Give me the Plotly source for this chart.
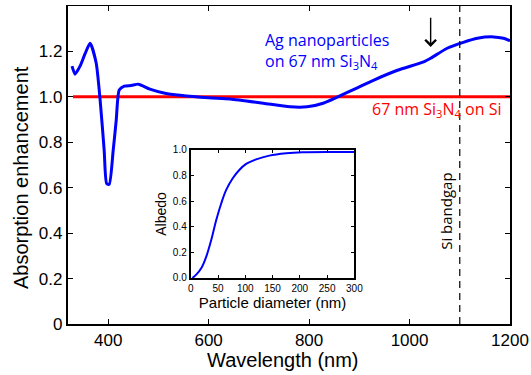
import plotly.graph_objects as go

# Main curve: Ag nanoparticles on 67 nm Si3N4
wl = [328, 334, 344, 354, 364, 376, 384, 392, 397, 402, 410, 416, 422, 432, 446, 460,
      483, 513, 543, 600, 643, 709, 762, 796, 828, 856, 896, 928, 976, 1028, 1042,
      1075, 1107, 1135, 1167, 1187, 1200]
enh = [1.135, 1.10, 1.135, 1.19, 1.236, 1.15, 0.985, 0.765, 0.618, 0.615, 0.765, 0.897,
       1.03, 1.047, 1.05, 1.056, 1.034, 1.016, 1.007, 0.996, 0.991, 0.972, 0.956, 0.956,
       0.972, 0.999, 1.04, 1.073, 1.117, 1.154, 1.17, 1.214, 1.24, 1.258, 1.264, 1.258,
       1.247]

# Reference: 67 nm Si3N4 on Si
ref_wl = [330, 1200]
ref_enh = [1.0, 1.0]

# Inset: albedo vs particle diameter
diam = [3, 10, 19.5, 28.6, 37.7, 46.9, 56, 65, 77, 89, 101.6, 120, 144, 175, 205, 266, 300]
albedo = [0.0, 0.026, 0.078, 0.169, 0.299, 0.455, 0.584, 0.688, 0.779, 0.844, 0.891,
          0.927, 0.956, 0.974, 0.982, 0.984, 0.984]

bandgap_nm = 1100
arrow_nm = 1042

main_yticks = [0, 0.2, 0.4, 0.6, 0.8, 1.0, 1.2]
main_yticktext = ["0", "0.2", "0.4", "0.6", "0.8", "1.0", "1.2"]
main_xticks = [400, 600, 800, 1000, 1200]
inset_xticks = [0, 50, 100, 150, 200, 250, 300]
inset_yticks = [0, 0.2, 0.4, 0.6, 0.8, 1.0]
inset_yticktext = ["0.0", "0.2", "0.4", "0.6", "0.8", "1.0"]

fig = go.Figure()
fig.add_trace(go.Scatter(x=ref_wl, y=ref_enh, mode="lines",
                         line=dict(color="#ff0000", width=3), showlegend=False))
fig.add_trace(go.Scatter(x=wl, y=enh, mode="lines",
                         line=dict(color="#0000ff", width=3, shape="spline", smoothing=0.6),
                         showlegend=False))
fig.add_trace(go.Scatter(x=[bandgap_nm, bandgap_nm], y=[0, 1.4], mode="lines",
                         line=dict(color="black", width=1.2, dash="7px,5px"), showlegend=False))
fig.add_trace(go.Scatter(x=diam, y=albedo, mode="lines", xaxis="x2", yaxis="y2",
                         line=dict(color="#0000ff", width=2, shape="spline"), showlegend=False))
# thin top axis (ticks only)
fig.add_trace(go.Scatter(x=[None], y=[None], xaxis="x3", yaxis="y", showlegend=False,
                         hoverinfo="skip"))

arial = "Liberation Sans, Arial, sans-serif"
tickfont = dict(family=arial, size=17, color="black")
fig.update_layout(
    width=531, height=375,
    margin=dict(l=68, r=21, t=6, b=51),
    paper_bgcolor="white", plot_bgcolor="white",
    font=dict(family=arial, color="black"),
    xaxis=dict(range=[320, 1200], tickvals=main_xticks, ticks="inside", ticklen=5,
               tickcolor="black", showline=True, linecolor="black", linewidth=2,
               mirror=False, showgrid=False, zeroline=False, tickfont=tickfont,
               automargin=False),
    xaxis3=dict(range=[320, 1200], tickvals=main_xticks, ticks="inside", ticklen=5,
                tickcolor="black", showline=True, linecolor="black", linewidth=1.3,
                overlaying="x", side="top", anchor="y", showticklabels=False,
                showgrid=False, zeroline=False, automargin=False),
    yaxis=dict(range=[0, 1.4], tickvals=main_yticks, ticktext=main_yticktext,
               ticks="inside", ticklen=5, tickcolor="black", showline=True,
               linecolor="black", linewidth=2.2, mirror="ticks", showgrid=False,
               zeroline=False, tickfont=tickfont, automargin=False),
    xaxis2=dict(domain=[0.2777, 0.6479], anchor="y2", range=[0, 300], tickvals=inset_xticks,
                ticks="inside", ticklen=3, tickcolor="black", showline=True,
                linecolor="black", linewidth=2, mirror="ticks", showgrid=False,
                zeroline=False, automargin=False,
                tickfont=dict(family=arial, size=10, color="black"),
                title=dict(text="Particle diameter (nm)", standoff=1,
                           font=dict(family=arial, size=15, color="black"))),
    yaxis2=dict(domain=[0.1447, 0.5472], anchor="x2", range=[0, 1.0], tickvals=inset_yticks,
                ticktext=inset_yticktext, ticks="inside", ticklen=3, tickcolor="black",
                showline=True, linecolor="black", linewidth=2, mirror="ticks",
                showgrid=False, zeroline=False, automargin=False,
                tickfont=dict(family=arial, size=10, color="black"),
                title=dict(text="Albedo", standoff=3,
                           font=dict(family=arial, size=14, color="black"))),
)

# main axis titles
fig.add_annotation(x=-0.1063, y=0.459, xref="paper", yref="paper",
                   text="Absorption enhancement", textangle=-90, showarrow=False,
                   xanchor="center", yanchor="middle",
                   font=dict(family=arial, size=20, color="black"))
fig.add_annotation(x=0.4864, y=-0.113, xref="paper", yref="paper",
                   text="Wavelength (nm)", showarrow=False,
                   xanchor="center", yanchor="middle",
                   font=dict(family=arial, size=20, color="black"))

lblfont = "Open Sans, sans-serif"
fig.add_annotation(x=709, y=1.20, xref="x", yref="y",
                   text="Ag nanoparticles<br>on 67 nm Si<sub>3</sub>N<sub>4</sub>",
                   showarrow=False, xanchor="left", yanchor="middle", align="left",
                   font=dict(family=lblfont, size=16, color="#0000ff"))
fig.add_annotation(x=922, y=0.946, xref="x", yref="y", text="67 nm Si<sub>3</sub>N<sub>4</sub> on Si",
                   showarrow=False, xanchor="left", yanchor="middle",
                   font=dict(family=lblfont, size=16, color="#ff0000"))
fig.add_annotation(x=1072, y=0.497, xref="x", yref="y", text="Si bandgap", textangle=-90,
                   showarrow=False, xanchor="center", yanchor="middle",
                   font=dict(family=lblfont, size=15, color="black"))
fig.add_annotation(x=arrow_nm, y=1.22, xref="x", yref="y", ax=arrow_nm, ay=1.355,
                   axref="x", ayref="y", text="", showarrow=True, arrowhead=4,
                   arrowsize=1.5, arrowwidth=1.4, arrowcolor="black")

fig.write_html("out.html")
